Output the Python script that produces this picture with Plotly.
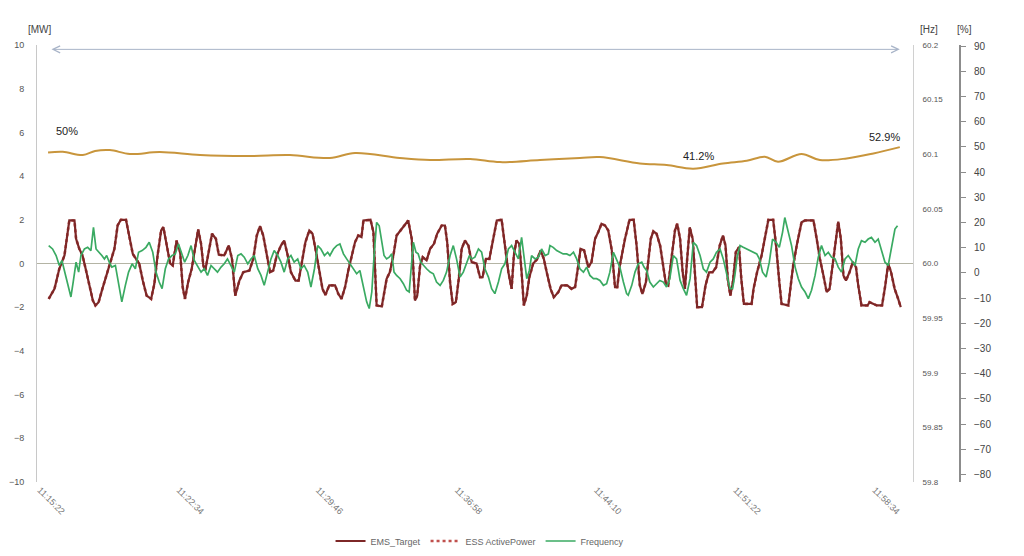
import plotly.graph_objects as go

# ---------------- data ----------------
tick_seconds = [0, 432, 864, 1296, 1728, 2160, 2592]
tick_labels = ["11:15:22", "11:22:34", "11:29:46", "11:36:58", "11:44:10", "11:51:22", "11:58:34"]

# EMS target / ESS active power [MW], time in seconds after 11:15:22
ems_t = [27, 45, 60, 76, 86, 91, 107, 112, 122, 132, 143, 153, 164, 172, 182, 192, 205, 217, 231, 241,
         251, 267, 277, 288, 298, 308, 319, 331, 345, 355, 365, 376, 383, 393, 404, 412, 424, 435, 443, 450,
         460, 471, 481, 491, 500, 507, 513, 524, 534, 546, 555, 572, 586, 596, 606, 619, 631, 650, 662, 673,
         683, 693, 704, 714, 724, 735, 748, 758, 769, 779, 793, 803, 813, 824, 836, 846, 857, 867, 877, 886, 898,
         916, 926, 936, 947, 957, 967, 978, 988, 998, 1004, 1026, 1035, 1040, 1045, 1061, 1068, 1076, 1086, 1097, 1107,
         1120, 1133, 1143, 1154, 1159, 1164, 1171, 1180, 1188, 1200, 1211, 1223, 1233, 1247, 1257, 1264, 1273, 1281, 1291, 1300,
         1309, 1319, 1330, 1340, 1355, 1366, 1374, 1384, 1395, 1407, 1418, 1433, 1443, 1454, 1464, 1471, 1479, 1488, 1495, 1502,
         1511, 1519, 1531, 1544, 1554, 1564, 1573, 1585, 1595, 1609, 1619, 1637, 1650, 1661, 1671, 1678, 1689, 1702, 1712, 1723,
         1733, 1743, 1754, 1764, 1775, 1785, 1792, 1800,
         1816, 1830, 1843, 1852, 1862, 1870, 1881, 1888, 1896, 1904, 1914, 1925, 1935, 1943, 1950, 1961, 1971, 1978, 1987, 1995,
         2002, 2009, 2017, 2026, 2033, 2040, 2055, 2066, 2077, 2088, 2099, 2110, 2120, 2128, 2135, 2143, 2151, 2160, 2170, 2177,
         2185, 2209, 2215, 2226, 2240, 2250, 2261, 2276, 2285, 2295, 2302, 2323, 2330, 2338, 2349, 2364, 2375, 2401, 2411, 2421,
         2432, 2442, 2451, 2461, 2471, 2478, 2486, 2494, 2502, 2513, 2523, 2533, 2540, 2550, 2569, 2575, 2598, 2614, 2624, 2633,
         2642, 2653, 2664, 2672]
ems_mw = [-1.62, -1.16, -0.24, 0.37, 1.44, 1.97, 1.97, 1.13, 0.67, 0.37, -0.32, -1.0, -1.69, -1.92, -1.77, -1.24, -0.63, -0.02, 0.67, 1.74,
          2.0, 2.0, 1.28, 0.44, 0.21, 0, -0.78, -1.47, -1.62, -0.93, 0.37, 1.51, 1.66, 0.9, 0, -0.09, 1.05, 0.52, -1.08, -1.62,
          -0.85, -0.24, 0.75, 1.56, 0.9, -0.09, -0.32, 0.52, 1.36, 1.13, 0.4, 0.37, 0.82, 0.21, -1.47, -0.78, -0.4, -0.32, 0.21, 1.28,
          1.71, 1.28, 0.37, -0.4, -0.32, 0.37, 0.82, 1.05, 0.37, -0.4, -0.78, -0.78, 0.06, 0.98, 1.51, 1.36, 0.52, -0.32, -1.16, -1.44, -1.0,
          -1.0, -1.39, -1.62, -1.08, -0.32, 0.37, 0.98, 1.28, 1.21, 1.97, 2.0, 1.44, -0.4, -1.92, -1.97, -1.31, -0.7, -0.4, 0.37, 1.28,
          1.51, 1.74, 1.97, 1.13, -0.7, -1.69, -1.47, -0.09, 0.29, 0.14, 0.67, 0.9, 1.36, 1.74, 1.74, 0.98, -0.85, -1.85, -1.77, -0.7,
          0.67, 1.05, 0.82, 0.06, 0, -0.63, -0.63, 0.21, 0.21, 1.13, 1.97, 2.0, 0.82, -0.4, -1.16, 0.37, 1.05, 0.9, -0.4, -1.92,
          -1.47, -0.63, 0, 0.21, 0.6, 0.21, -0.4, -1.16, -1.54, -1.31, -1.0, -1.0, -1.16, -1.08, -0.09, 0.67, 0.6, -0.17, 0.06, 1.13,
          1.44, 1.82, 1.74, 1.51, 0.6, -1.08, -1.08, -0.09,
          1.13, 2.0, 2.0, 0.82, -1.0, -1.39, -0.85, 0, 1.13, 1.47, 1.36, 0.82, -0.09, -0.93, -1.0, 0.37, 1.51, 1.82, 1.13, -0.4,
          -1.16, 0.21, 1.66, 1.13, -0.4, -2.0, -2.0, -1.0, -0.4, -0.4, -0.17, 0.82, 1.28, 0.82, -0.7, -1.47, -0.85, 0.52, 0.75, -0.7,
          -1.85, -1.85, -1.16, -0.4, 0.37, 1.13, 2.0, 2.0, 0.82, -0.85, -1.85, -1.92, -1.16, -0.09, 0.82, 1.89, 1.97, 1.97, 1.13, 0.21,
          -0.55, -1.31, -1.16, -0.09, 1.13, 1.92, 1.13, -0.55, -0.78, -0.4, 0.06, -0.17, -1.0, -1.92, -1.92, -1.77, -1.92, -1.92, -1.0, 0,
          -0.4, -1.16, -1.62, -2.0]
# the ESS active power follows the EMS target point for point in the picture
ess_mw = list(ems_mw)

# Grid frequency [Hz]
freq_t = [27, 39, 50, 60, 68, 76, 86, 96, 103, 112, 120, 127, 138, 148, 158, 166, 174, 184, 192, 200,
          207, 215, 223, 234, 244, 254, 265, 275, 286, 296, 306, 317, 329, 339, 350, 360, 370, 379, 389, 399,
          410, 420, 430, 441, 449, 459, 469, 479, 489, 500, 510, 520, 531, 541, 551, 562, 572, 582, 593, 603,
          614, 624, 634, 645, 655, 665, 676, 686, 696, 707, 717, 727, 738, 748, 758, 769, 779, 789, 800, 810,
          820, 831, 841, 852, 862, 872, 883, 893,
          900, 911, 921, 931, 942, 952, 962, 973, 983, 993, 1004, 1014, 1022, 1030, 1037, 1045, 1053, 1061, 1068, 1076,
          1084, 1092, 1099, 1107, 1118, 1128, 1138, 1146, 1154, 1159, 1167, 1174, 1182, 1190, 1200, 1211, 1221, 1231, 1242, 1252,
          1262, 1273, 1283, 1293, 1304, 1314, 1324, 1333, 1340, 1350, 1361, 1371, 1381, 1392, 1402, 1412, 1423, 1433, 1443, 1454,
          1464, 1474, 1485, 1495, 1503, 1511, 1519, 1526, 1537, 1547, 1557, 1568, 1578, 1583, 1593, 1604, 1614, 1624, 1635, 1645,
          1656, 1666, 1676, 1687, 1697, 1707, 1718, 1728, 1738, 1749, 1759, 1769, 1780, 1790, 1800, 1811, 1821,
          1826, 1837, 1847, 1857, 1868, 1875, 1883, 1893, 1904, 1914, 1924, 1935, 1945, 1955, 1966, 1976, 1987, 1997, 2007, 2018,
          2028, 2038, 2049, 2059, 2069, 2080, 2090, 2100, 2111, 2121, 2131, 2142, 2150, 2157, 2165, 2173, 2183, 2194, 2204, 2214,
          2225, 2233, 2243, 2254, 2264, 2274, 2285, 2295, 2305, 2312, 2323, 2333, 2344, 2354, 2364, 2375, 2385, 2395, 2406, 2416,
          2426, 2437, 2447, 2457, 2468, 2478, 2488, 2499, 2509, 2519, 2530, 2540, 2550, 2561, 2571, 2581, 2592, 2602, 2613, 2623,
          2633, 2644, 2654, 2662]
freq_hz = [60.0164, 60.0133, 60.0073, 59.9982, 60.0027, 59.9936, 59.98, 59.9694, 59.983, 60.0012,
           59.9921, 60.0073, 60.0133, 60.0148, 60.0118, 60.033, 60.0133, 60.0103, 60.0073, 60.0042,
           60.0073, 60.0012, 59.9967, 59.9982, 59.983, 59.9649, 59.98, 59.9921, 59.9997, 59.9952,
           60.0103, 60.0118, 60.0148, 60.0194, 60.0103, 59.9921, 59.983, 59.977, 59.9952, 60.0042,
           60.0073, 60.0088, 60.0179, 60.0073, 60.0012, 60.0073, 60.0164, 60.0027, 59.9982, 59.9921,
           59.9952, 59.9891, 59.9982, 59.9952, 59.9921, 59.9967, 59.9997, 60.0042, 59.9982, 59.9921,
           60.0073, 60.0088, 60.0058, 59.9997, 60.0042, 60.0073, 59.9952, 59.9891, 59.98, 59.9921,
           60.0042, 60.0118, 60.0073, 60.0012, 59.9921, 60.0042, 60.0073, 60.0012, 60.0042, 59.9952,
           59.9982, 59.9921, 59.9785, 59.9952, 60.0164, 60.0133, 60.0073, 60.0103,
           60.0073, 60.0133, 60.0164, 60.0179, 60.0088, 60.0042, 59.9997, 59.9952, 59.9906, 59.9936,
           59.977, 59.9649, 59.9588, 59.9739, 60.0073, 60.0376, 60.0345, 60.0194, 60.0073, 60.0042,
           60.0058, 60.0088, 59.9921, 59.9891, 59.9861, 59.9815, 59.9755, 59.9739, 60.0042, 60.0194,
           60.0103, 60.0088, 60.0012, 59.9982, 59.9952, 59.9921, 59.9906, 59.983, 59.98, 59.9845,
           59.9921, 60.0073, 60.0164, 60.0042, 59.9876, 59.9921, 59.9997, 60.0073, 60.0042, 60.0058,
           60.0133, 60.0103, 59.9952, 59.9876, 59.977, 59.9724, 59.983, 59.9952, 59.9997, 60.0133,
           60.0164, 60.0103, 60.0042, 60.0239, 60.0073, 59.9861, 59.9936, 60.0073, 60.0042, 60.0058,
           60.0133, 60.0073, 60.0088, 60.0164, 60.0148, 60.0118, 60.0103, 60.0088, 60.0088, 60.0073,
           60.0103, 60.0042, 59.9952, 59.9921, 59.9967, 59.9891, 59.9861, 59.9861, 59.9845, 59.98,
           59.9815, 59.9921, 60.0103, 60.0042, 59.9967, 59.983, 59.9724,
           59.9709, 59.98, 59.9921, 59.9997, 60.0012, 59.9967, 59.9936, 59.983, 59.9785, 59.9815,
           59.9845, 59.983, 59.9785, 59.9861, 60.0073, 60.0042, 59.9845, 59.977, 59.9709, 59.9861,
           60.0194, 60.0164, 60.0073, 59.9952, 59.9921, 60.0012, 60.0042, 60.0103, 60.0133, 60.0042,
           59.9921, 59.977, 59.977, 59.9891, 60.0073, 60.0164, 60.0148, 60.0133, 60.0118, 60.0103,
           60.0088, 60.0042, 59.9921, 59.9876, 60.0012, 60.0224, 60.0194, 60.0148, 60.0285, 60.0421,
           60.0285, 60.0164, 59.9967, 59.9861, 59.9785, 59.9739, 59.9679, 59.9755, 59.9891, 60.0058,
           60.0164, 60.0073, 60.0103, 60.0058, 60.0042, 59.9967, 59.9921, 60.0042, 60.0073, 60.0027,
           59.9982, 60.0133, 60.0209, 60.0194, 60.0224, 60.0239, 60.0194, 60.0224, 60.0103, 60.0012,
           59.9982, 60.0164, 60.0315, 60.0345]

# ESS state of charge [%]
soc_t = [25, 71, 133, 171, 217, 279, 372, 497, 652, 776, 900, 978, 1117, 1211, 1335, 1428, 1552, 1676, 1738, 1862,
         1945, 2028, 2120, 2194, 2250, 2291, 2364, 2421, 2504, 2587, 2669]
soc_pct = [50.0, 50.4, 48.6, 50.8, 51.3, 49.2, 50.2, 48.6, 48.1, 48.6, 47.0, 49.7, 47.0, 45.9, 46.5, 44.8, 45.9, 47.0, 47.5, 44.1,
           43.2, 41.2, 44.1, 45.5, 47.7, 45.0, 49.2, 45.9, 46.8, 49.5, 52.9]
soc_labels = ["50%", "41.2%", "52.9%"]

mw_ticks = [-10, -8, -6, -4, -2, 0, 2, 4, 6, 8, 10]
hz_ticks = [59.8, 59.85, 59.9, 59.95, 60.0, 60.05, 60.1, 60.15, 60.2]
hz_labels = ["59.8", "59.85", "59.9", "59.95", "60.0", "60.05", "60.1", "60.15", "60.2"]
pct_ticks = [-80, -70, -60, -50, -40, -30, -20, -10, 0, 10, 20, 30, 40, 50, 60, 70, 80, 90]

assert len(ems_t) == len(ems_mw), (len(ems_t), len(ems_mw))
assert len(freq_t) == len(freq_hz), (len(freq_t), len(freq_hz))
assert len(soc_t) == len(soc_pct)

# ---------------- figure ----------------
FONT = "Liberation Sans, Arial, sans-serif"
fig = go.Figure()

fig.add_trace(go.Scatter(x=ems_t, y=ess_mw, name="ESS ActivePower", mode="lines",
                         line=dict(color="#c0504d", width=2.6, dash="dot"), legendrank=2, yaxis="y"))
fig.add_trace(go.Scatter(x=ems_t, y=ems_mw, name="EMS_Target", mode="lines",
                         line=dict(color="#7d2727", width=2.2), legendrank=1, yaxis="y"))
fig.add_trace(go.Scatter(x=freq_t, y=freq_hz, name="Frequency", mode="lines",
                         line=dict(color="#3aaa62", width=1.7), legendrank=3, yaxis="y2"))
fig.add_trace(go.Scatter(x=soc_t, y=soc_pct, name="SOC", mode="lines", showlegend=False,
                         line=dict(color="#c8953c", width=2, shape="spline"), yaxis="y4"))
# empty trace so the % scale (yaxis3) is drawn
fig.add_trace(go.Scatter(x=[None], y=[None], yaxis="y3", showlegend=False, hoverinfo="skip"))

XDOM = 876 / 923

fig.update_layout(
    width=1024, height=556, autosize=False,
    margin=dict(l=37, r=64, t=45, b=74, autoexpand=False),
    paper_bgcolor="white", plot_bgcolor="white",
    font=dict(family=FONT, size=9, color="#555555"),
    showlegend=True,
    legend=dict(orientation="h", x=0.48, y=-0.135, xanchor="center", yanchor="middle",
                font=dict(size=9, color="#666666"), bgcolor="rgba(0,0,0,0)", itemwidth=30),
    xaxis=dict(domain=[0, XDOM], range=[-9.3, 2710], tickvals=tick_seconds, ticktext=tick_labels,
               tickangle=45, tickfont=dict(size=9, color="#777777"), showline=False, showgrid=False,
               zeroline=False, ticks="", automargin=False),
    yaxis=dict(range=[-10, 10], tickvals=mw_ticks, showline=True, linecolor="#c8c8c8", linewidth=1,
               zeroline=True, zerolinecolor="#b4b4a4", zerolinewidth=1, showgrid=False,
               ticks="outside", ticklen=10, tickcolor="rgba(0,0,0,0)", automargin=False,
               tickfont=dict(size=9, color="#555555")),
    yaxis2=dict(overlaying="y", side="right", anchor="free", position=XDOM, range=[59.8, 60.2],
                tickvals=hz_ticks, ticktext=hz_labels, showline=True, linecolor="#d0d0d0", linewidth=1,
                ticks="outside", ticklen=7, tickcolor="rgba(0,0,0,0)", showgrid=False, zeroline=False,
                automargin=False, tickfont=dict(size=8, color="#555555")),
    yaxis3=dict(overlaying="y", side="right", anchor="free", position=1.0, range=[-83, 90.4],
                tickvals=pct_ticks, showline=True, linecolor="#8c8c8c", linewidth=2,
                ticks="outside", ticklen=5, tickcolor="#8c8c8c", showgrid=False, zeroline=False,
                ticklabelstandoff=6, automargin=False, tickfont=dict(size=10, color="#444444")),
    yaxis4=dict(overlaying="y", visible=False, range=[-128.1, 108.1], showgrid=False, zeroline=False),
)

annotations = [
    dict(text="[MW]", xref="paper", yref="paper", x=0.003, y=1.0366, xanchor="center", yanchor="middle",
         showarrow=False, font=dict(size=10, color="#444444")),
    dict(text="[Hz]", xref="paper", yref="paper", x=0.9664, y=1.0366, xanchor="center", yanchor="middle",
         showarrow=False, font=dict(size=10, color="#444444")),
    dict(text="[%]", xref="paper", yref="paper", x=1.0054, y=1.0366, xanchor="center", yanchor="middle",
         showarrow=False, font=dict(size=10, color="#444444")),
    dict(text=soc_labels[0], xref="x", yref="y", x=84, y=6.06, showarrow=False,
         font=dict(size=11, color="#222222")),
    dict(text=soc_labels[1], xref="x", yref="y", x=2045, y=4.91, showarrow=False,
         font=dict(size=11, color="#222222")),
    dict(text=soc_labels[2], xref="x", yref="y", x=2620, y=5.78, showarrow=False,
         font=dict(size=11, color="#222222")),
    dict(text="", xref="x", yref="y", x=2669, y=9.8, axref="x", ayref="y", ax=31, ay=9.8,
         showarrow=True, arrowside="end+start", arrowhead=5, arrowsize=1.4, arrowwidth=1,
         arrowcolor="#a8b4c8"),
]
fig.update_layout(annotations=annotations)

fig.write_html("out.html")
